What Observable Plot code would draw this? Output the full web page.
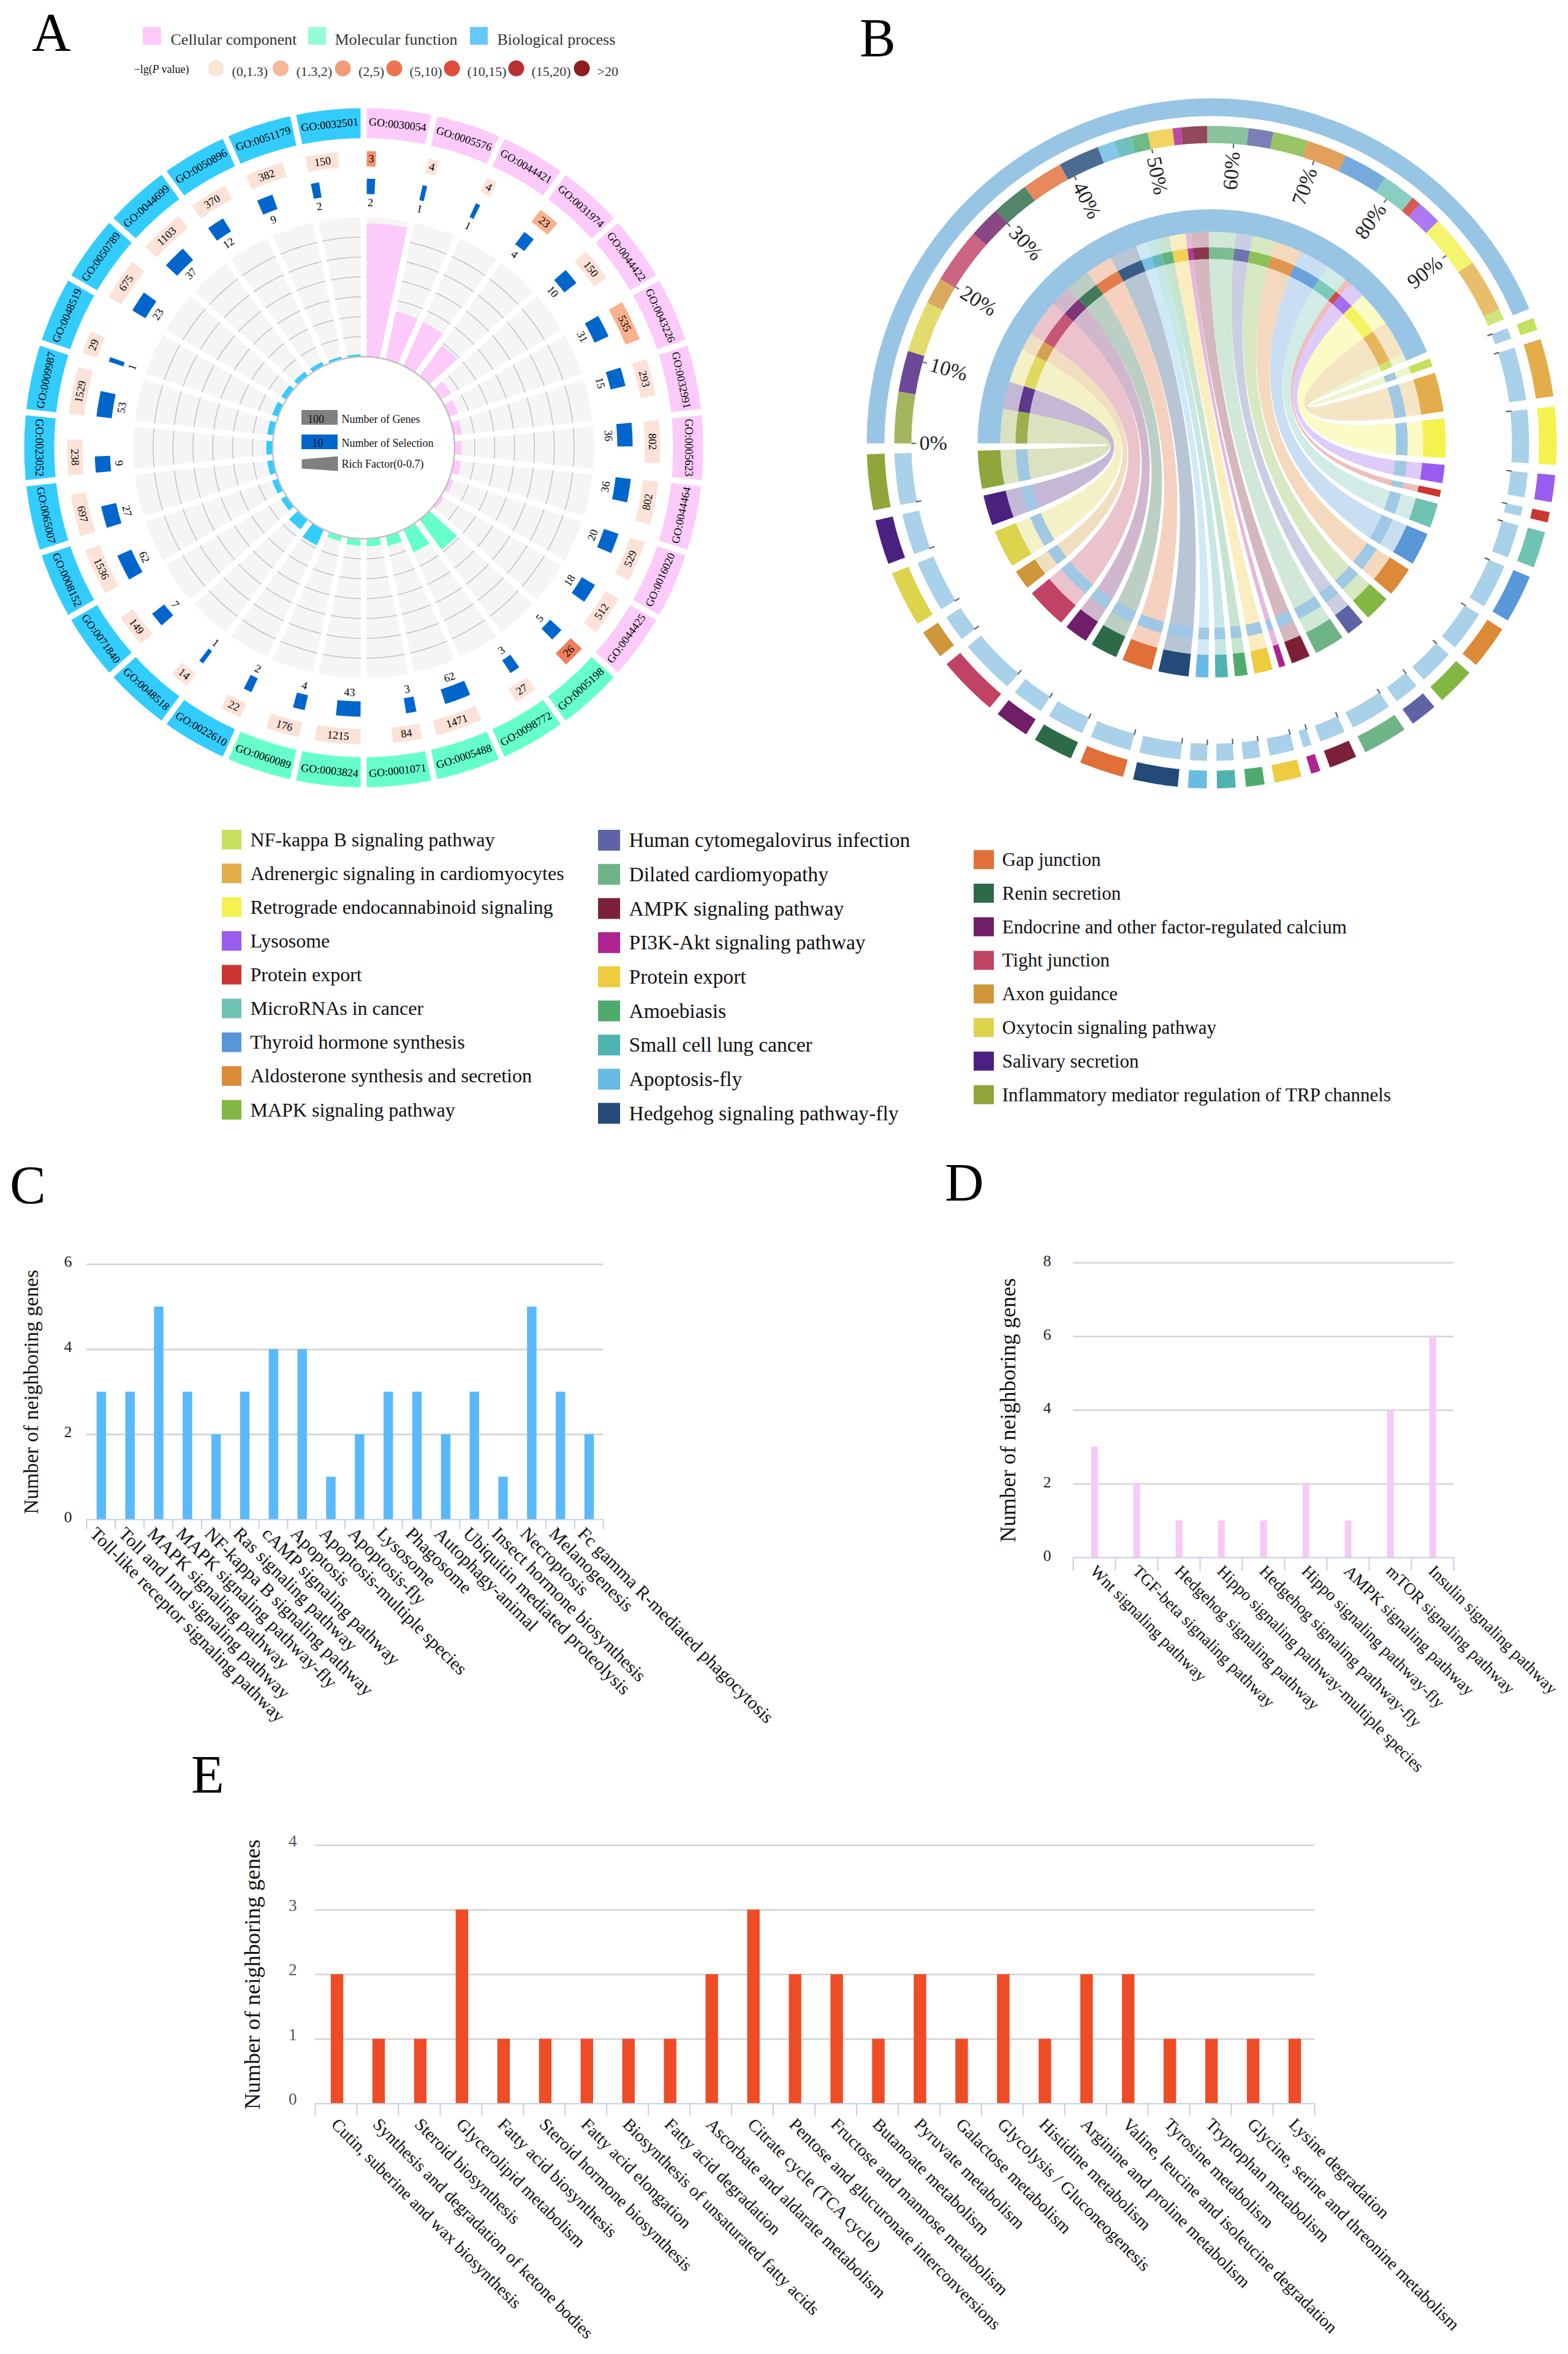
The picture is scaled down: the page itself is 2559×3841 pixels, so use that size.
<!DOCTYPE html>
<html>
<head>
<meta charset="utf-8">
<script src="https://cdn.jsdelivr.net/npm/d3@7"></script>
<script src="https://cdn.jsdelivr.net/npm/@observablehq/plot@0.6"></script>
<style>
html,body{margin:0;padding:0;background:#fff}
#page{position:relative;width:2559px;height:3841px;overflow:hidden;background:#fff;font-family:"Liberation Serif",serif}
#page svg{position:absolute;overflow:visible}
.letter{position:absolute;font-size:88px;line-height:1;color:#000}
</style>
</head>
<body>
<div id="page"></div>
<script>
(function(){
// ---------- Panel A data ----------
const goIds = ["GO:0030054","GO:0005576","GO:0044421","GO:0031974","GO:0044422","GO:0043226","GO:0032991","GO:0005623","GO:0044464","GO:0016020","GO:0044425",
  "GO:0005198","GO:0098772","GO:0005488","GO:0001071","GO:0003824","GO:0060089",
  "GO:0022610","GO:0048518","GO:0071840","GO:0008152","GO:0065007","GO:0023052","GO:0009987","GO:0048519","GO:0050789","GO:0044699","GO:0050896","GO:0051179","GO:0032501"];
const goClass = [0,0,0,0,0,0,0,0,0,0,0,1,1,1,1,1,1,2,2,2,2,2,2,2,2,2,2,2,2,2];
const goGenes = [3,4,4,23,150,535,293,802,802,529,512,26,27,1471,84,1215,176,22,14,149,1536,697,238,1529,29,675,1103,370,382,150];
const goLevel = [2,0,0,1,0,1,0,0,0,0,0,3,0,0,0,0,0,0,0,0,0,0,0,0,0,0,0,0,0,0];
const goSelected = [2,1,1,4,10,31,15,36,36,20,18,5,3,62,3,43,4,2,1,7,62,27,9,53,1,23,37,12,9,2];
const goRich = [.67,.245,.24,.19,.058,.046,.04,.034,.035,.022,.016,.186,.125,.05,.037,.033,.025,.085,.06,.03,.03,.03,.03,.03,.03,.028,.025,.02,.012,.01];
const classNames = ["Cellular component","Molecular function","Biological process"];
const classColors = ["#fccbfb","#66ffcc","#33ccff"];
const classLegendColors = ["#fccbfb","#95fdd2","#66c8fb"];
const pLabels = ["(0,1.3)","(1.3,2)","(2,5)","(5,10)","(10,15)","(15,20)",">20"];
const pColors = ["#fbe3d5","#f6b89b","#f19c77","#ec7550","#e14b38","#b93131","#8e1d20"];
const barLevelColors = ["#fde2d8","#f9b08e","#f58f6e","#ef7d5c","#e14b38","#b93131","#8e1d20"];
const richTicks = [.1,.2,.3,.4,.5,.6];

// ---------- Panel B data ----------
const pathways = ["NF-kappa B signaling pathway","Adrenergic signaling in cardiomyocytes","Retrograde endocannabinoid signaling","Lysosome","Protein export","MicroRNAs in cancer","Thyroid hormone synthesis","Aldosterone synthesis and secretion","MAPK signaling pathway",
  "Human cytomegalovirus infection","Dilated cardiomyopathy","AMPK signaling pathway","PI3K-Akt signaling pathway","Protein export","Amoebiasis","Small cell lung cancer","Apoptosis-fly","Hedgehog signaling pathway-fly",
  "Gap junction","Renin secretion","Endocrine and other factor-regulated calcium","Tight junction","Axon guidance","Oxytocin signaling pathway","Salivary secretion","Inflammatory mediator regulation of TRP channels"];
const pathwayColors = ["#c5e05e","#e3ae4a","#f3f24e","#9a5cef","#cc3630","#6fc3b2","#5897d8","#dd8a38","#82b744",
  "#5e63a5","#6fb486","#7c2039","#ad2391","#eecb3f","#4fab6d","#50b3b0","#69bbe3","#234a78",
  "#e06f38","#2c6a48","#701e68","#c04365","#cf973a","#ddd34d","#4a2180","#8fa63a"];
const pathwayShare = [1.3,6.2,6.2,2.9,1.1,3.9,5.2,4.7,4.1,2.9,4.8,3,1,2.9,2,2,2,4.8,4.8,4.3,3.7,6.5,3.1,6,4.8,6];
const percentTicks = [0,10,20,30,40,50,60,70,80,90];

// ---------- Panels C, D, E data ----------
const cNames = ["Toll-like receptor signaling pathway","Toll and Imd signaling pathway","MAPK signaling pathway","MAPK signaling pathway-fly","NF-kappa B signaling pathway","Ras signaling pathway","cAMP signaling pathway","Apoptosis","Apoptosis-multiple species","Apoptosis-fly","Lysosome","Phagosome","Autophagy-animal","Ubiquitin mediated proteolysis","Insect hormone biosynthesis","Necroptosis","Melanogenesis","Fc gamma R-mediated phagocytosis"];
const cValues = [3,3,5,3,2,3,4,4,1,2,3,3,2,3,1,5,3,2];
const dNames = ["Wnt signaling pathway","TGF-beta signaling pathway","Hedgehog signaling pathway","Hippo signaling pathway-multiple species","Hedgehog signaling pathway-fly","Hippo signaling pathway-fly","AMPK signaling pathway","mTOR signaling pathway","Insulin signaling pathway"];
const dValues = [3,2,1,1,1,2,1,4,6];
const eNames = ["Cutin, suberine and wax biosynthesis","Synthesis and degradation of ketone bodies","Steroid biosynthesis","Glycerolipid metabolism","Fatty acid biosynthesis","Steroid hormone biosynthesis","Fatty acid elongation","Biosynthesis of unsaturated fatty acids","Fatty acid degradation","Ascorbate and aldarate metabolism","Citrate cycle (TCA cycle)","Pentose and glucuronate interconversions","Fructose and mannose metabolism","Butanoate metabolism","Pyruvate metabolism","Galactose metabolism","Glycolysis / Gluconeogenesis","Histidine metabolism","Arginine and proline metabolism","Valine, leucine and isoleucine degradation","Tyrosine metabolism","Tryptophan metabolism","Glycine, serine and threonine metabolism","Lysine degradation"];
const eValues = [2,1,1,3,1,1,1,1,1,2,3,2,2,1,2,1,2,1,2,2,1,1,1,1];

// ---------- helpers ----------
const FONT = "Liberation Serif";
const page = document.getElementById("page");
const rad = d => d * Math.PI / 180;
const deg = r => r * 180 / Math.PI;
const polar = (c, r, a) => [c[0] + r * Math.sin(rad(a)), c[1] - r * Math.cos(rad(a))];
function arcPts(c, r, a0, a1) {
  const n = Math.max(2, Math.ceil(Math.abs(a1 - a0)));
  return d3.range(n + 1).map(i => polar(c, r, a0 + (a1 - a0) * i / n));
}
function sector(c, r0, r1, a0, a1, pad = 0) {
  const pr = r => pad ? deg(Math.asin(Math.min(1, pad / r))) : 0;
  return [...arcPts(c, r1, a0 + pr(r1), a1 - pr(r1)), ...arcPts(c, r0, a1 - pr(r0), a0 + pr(r0))];
}
let uid = 0;
const toRows = (pts, fill) => { const id = uid++; return pts.map(p => ({x: p[0], y: p[1], id, fill})); };
const polys = (list, opts = {}) => Plot.line(list.flat(), {x: "x", y: "y", z: "id", fill: d => d.fill, stroke: "none", curve: "linear-closed", ...opts});
const rotA = a => { a = ((a % 360) + 360) % 360; return a <= 90 ? a : a <= 270 ? a - 180 : a - 360; };

// ---------- Panel A ----------
const cA = [593, 730];
const S = 12, PAD = 5;
const richR = d3.scaleLinear().domain([0, .7]).range([149, 376]);
const geneArc = d3.scaleLog().domain([1, 10000]).range([.5, 11.4]);
const selArc = d3.scaleLog().domain([1, 100]).range([1, 6.2]);
const startOf = (i, r) => i * S + deg(Math.asin(PAD / r));
const idx = d3.range(goIds.length);
const marksA = [
  polys(idx.map(i => toRows(sector(cA, 149, 376, i * S, (i + 1) * S, PAD), "#f5f5f5"))),
  Plot.line(idx.flatMap(i => richTicks.flatMap((t) => {
    const r = richR(t), id = uid++;
    return arcPts(cA, r, startOf(i, r), (i + 1) * S - deg(Math.asin(PAD / r))).map(p => ({x: p[0], y: p[1], id}));
  })), {x: "x", y: "y", z: "id", stroke: "#c4c4c4", strokeWidth: 1.6}),
  polys(idx.map(i => toRows(sector(cA, 149, richR(goRich[i]), i * S, (i + 1) * S, PAD), classColors[goClass[i]]))),
  Plot.line(arcPts(cA, 148.5, 0, 360), {x: d => d[0], y: d => d[1], fill: "#fff", stroke: "#c0c0c0", strokeWidth: 2.5, curve: "linear-closed"}),
  polys(idx.map(i => toRows(sector(cA, 505, 554, i * S, (i + 1) * S, PAD), classColors[goClass[i]]))),
  polys(idx.map(i => { const a = startOf(i, 471); return toRows(sector(cA, 459, 484, a, a + geneArc(goGenes[i])), barLevelColors[goLevel[i]]); })),
  polys(idx.map(i => { const a = startOf(i, 426); return toRows(sector(cA, 414, 439, a, a + selArc(goSelected[i])), "#0066cc"); })),
  Plot.text(idx, {x: i => polar(cA, 530, (i + .5) * S)[0], y: i => polar(cA, 530, (i + .5) * S)[1], text: i => goIds[i], rotate: i => rotA((i + .5) * S), fontSize: 18, fill: "#000"}),
  Plot.text(idx, {x: i => polar(cA, 471.5, startOf(i, 471) + geneArc(goGenes[i]) / 2)[0], y: i => polar(cA, 471.5, startOf(i, 471) + geneArc(goGenes[i]) / 2)[1], text: i => String(goGenes[i]), rotate: i => rotA(startOf(i, 471) + geneArc(goGenes[i]) / 2), fontSize: 18, fill: "#000"}),
  Plot.text(idx, {x: i => polar(cA, 400, startOf(i, 426) + selArc(goSelected[i]) / 2)[0], y: i => polar(cA, 400, startOf(i, 426) + selArc(goSelected[i]) / 2)[1], text: i => String(goSelected[i]), rotate: i => rotA(startOf(i, 426) + selArc(goSelected[i]) / 2), fontSize: 18, fill: "#000"}),
  // centre key
  Plot.rect([0], {x1: 492, x2: 551, y1: 669, y2: 693, fill: "#808080"}),
  Plot.rect([0], {x1: 492, x2: 551, y1: 709, y2: 733, fill: "#0066cc"}),
  Plot.line([[492,749],[551,744],[551,768],[492,764]], {x: d => d[0], y: d => d[1], fill: "#808080", stroke: "none", curve: "linear-closed"}),
  Plot.text(["100"], {x: 515, y: 684, fontSize: 18, fill: "#111"}),
  Plot.text(["10"], {x: 518, y: 723, fontSize: 18, fill: "#111"}),
  Plot.text(["Number of Genes","Number of Selection","Rich Factor(0-0.7)"], {x: 557, y: (d, i) => [684, 723, 757][i], text: d => d, textAnchor: "start", fontSize: 18, fill: "#111"}),
  // top key
  Plot.rect(classNames, {x1: (d, i) => [233, 503, 767][i], x2: (d, i) => [263, 532, 796][i], y1: 44, y2: 73, fill: (d, i) => classLegendColors[i]}),
  Plot.text(classNames, {x: (d, i) => [278, 546, 811][i], y: 64, text: d => d, textAnchor: "start", fontSize: [26, 26, 25][0], fill: "#333"}),
  Plot.text(["\u2212lg("], {x: 218, y: 113, text: d => d, textAnchor: "start", fontSize: 18, fill: "#111"}),
  Plot.text(["P"], {x: 248, y: 113, text: d => d, textAnchor: "start", fontSize: 18, fontStyle: "italic", fill: "#111"}),
  Plot.text(["value)"], {x: 263, y: 113, text: d => d, textAnchor: "start", fontSize: 18, fill: "#111"}),
  Plot.dot(pLabels, {x: (d, i) => [352,457.5,559,643,737,842,949][i], y: 111, r: 13, fill: (d, i) => pColors[i], stroke: "none"}),
  Plot.text(pLabels, {x: (d, i) => [378,483,584.5,668,762,867,974][i], y: 116, text: d => d, textAnchor: "start", fontSize: 22, fill: "#333"})
];

// ---------- Panel B ----------
const cB = [1977, 723];
const START = -90, BIG = 157, GAP = 1.7;
const unit = BIG / d3.sum(pathwayShare);
const shareDeg = pathwayShare.map(v => v * unit);
const segOrder = pathways.map((_, i) => i);
// top positions run from Inflammatory (0%) back to NF-kappa (100%)
const topPos = new Array(pathways.length);
let acc = START;
[...segOrder].reverse().forEach(i => { topPos[i] = [acc, acc + shareDeg[i]]; acc += shareDeg[i]; });
const lowPos = new Array(pathways.length);
let acb = START + BIG + GAP;
segOrder.forEach(i => { lowPos[i] = [acb, acb + shareDeg[i]]; acb += shareDeg[i] + GAP; });
const LIGHT = "#a9d1e9", BIGBLUE = "#99c5e5";
function ribbon(a, b) {
  const R = 345, r = 301, qs = (p0, p1) => {
    const ctrl = [cB[0] + .117 * ((p0[0] + p1[0]) / 2 - cB[0]), cB[1] + .117 * ((p0[1] + p1[1]) / 2 - cB[1])];
    return d3.range(41).map(k => {
      const t = k / 40, u = 1 - t;
      return [u * u * p0[0] + 2 * u * t * ctrl[0] + t * t * p1[0], u * u * p0[1] + 2 * u * t * ctrl[1] + t * t * p1[1]];
    });
  };
  return [...arcPts(cB, R, a[0], a[1]), ...qs(polar(cB, r, a[1]), polar(cB, r, b[0])), ...arcPts(cB, R, b[0], b[1]), ...qs(polar(cB, r, b[1]), polar(cB, r, a[0]))];
}
const pctAngle = p => START + p / 100 * BIG;
const marksB = [
  polys([toRows(sector(cB, 534, 563, START, START + BIG), BIGBLUE), toRows(sector(cB, 345, 382, START, START + BIG), BIGBLUE)]),
  polys(segOrder.map(i => toRows(sector(cB, 490, 518, topPos[i][0], topPos[i][1]), pathwayColors[i])), {fillOpacity: .82}),
  polys(segOrder.map(i => toRows(sector(cB, 534, 563, lowPos[i][0], lowPos[i][1]), pathwayColors[i]))),
  polys(segOrder.map(i => toRows(sector(cB, 490, 518, lowPos[i][0], lowPos[i][1]), LIGHT))),
  polys(segOrder.map(i => toRows(sector(cB, 345, 382, lowPos[i][0], lowPos[i][1]), pathwayColors[i]))),
  polys(segOrder.map(i => toRows(ribbon(topPos[i], lowPos[i]), pathwayColors[i])), {fillOpacity: .32}),
  polys(segOrder.map(i => toRows(sector(cB, 301, 320, topPos[i][0], topPos[i][1]), pathwayColors[i])), {fillOpacity: .85}),
  polys(segOrder.map(i => toRows(sector(cB, 301, 320, lowPos[i][0], lowPos[i][1]), "#a0c8e4"))),
  Plot.link(segOrder, {x1: i => polar(cB, 483, lowPos[i][0])[0], y1: i => polar(cB, 483, lowPos[i][0])[1], x2: i => polar(cB, 492, lowPos[i][0])[0], y2: i => polar(cB, 492, lowPos[i][0])[1], stroke: "#555", strokeWidth: 2}),
  Plot.link(percentTicks, {x1: p => polar(cB, 483, pctAngle(p))[0], y1: p => polar(cB, 483, pctAngle(p))[1], x2: p => polar(cB, 490, pctAngle(p))[0], y2: p => polar(cB, 490, pctAngle(p))[1], stroke: "#555", strokeWidth: 2}),
  Plot.text(percentTicks.filter(p => p <= 50), {x: p => polar(cB, 477, pctAngle(p))[0], y: p => polar(cB, 477, pctAngle(p))[1], text: p => p + "%", rotate: p => pctAngle(p) + 90, textAnchor: "start", fontSize: 34, fill: "#222"}),
  Plot.text(percentTicks.filter(p => p > 50), {x: p => polar(cB, 477, pctAngle(p))[0], y: p => polar(cB, 477, pctAngle(p))[1], text: p => p + "%", rotate: p => pctAngle(p) - 90, textAnchor: "end", fontSize: 34, fill: "#222"})
];

// ---------- Panel B key ----------
const keyCols = [
  {from: 0, to: 9, sx0: 362, sx1: 394, tx: 408, y0: 1370, step: 55.1, h: 32, font: 32},
  {from: 9, to: 18, sx0: 976, sx1: 1012, tx: 1026, y0: 1371, step: 55.7, h: 34, font: 33.6},
  {from: 18, to: 26, sx0: 1589, sx1: 1622, tx: 1635, y0: 1402.6, step: 54.8, h: 31, font: 31}
];
const keyRows = keyCols.flatMap(c => d3.range(c.from, c.to).map(i => ({i, y: c.y0 + (i - c.from) * c.step, ...c})));
const marksKey = [
  Plot.rect(keyRows, {x1: "sx0", x2: "sx1", y1: d => d.y - d.h / 2, y2: d => d.y + d.h / 2, fill: d => pathwayColors[d.i]}),
  ...keyCols.map(c => Plot.text(keyRows.filter(d => d.from === c.from), {x: "tx", y: "y", text: d => pathways[d.i], textAnchor: "start", fontSize: c.font, fill: "#111"}))
];

const topChart = Plot.plot({
  width: 2559, height: 1900, margin: 0,
  x: {domain: [0, 2559], range: [0, 2559], axis: null},
  y: {domain: [0, 1900], range: [0, 1900], axis: null},
  color: {type: "identity"},
  style: {fontFamily: FONT, background: "transparent"},
  marks: [...marksA, ...marksB, ...marksKey]
});
topChart.style.left = "0px"; topChart.style.top = "0px";
page.appendChild(topChart);

// ---------- bar panels ----------
function barPanel({names, values, color, left, topY, width, height, plot, yMax, yTicks, barFrac, barShift, tickLen, titleSize, titleDx, tickPad, tickFont, tickDy, tickFill, labelPad, labelDx, labelFont}) {
  const n = names.length;
  const chart = Plot.plot({
    width, height,
    marginLeft: plot[0] - left, marginRight: left + width - plot[1],
    marginTop: plot[2] - topY, marginBottom: topY + height - plot[3],
    x: {domain: [0, n], axis: null},
    y: {domain: [0, yMax], axis: null},
    style: {fontFamily: FONT, background: "transparent", color: "#111"},
    marks: [
      Plot.ruleY(yTicks.filter(v => v > 0), {stroke: "#d4d4d4", strokeWidth: 2.6, strokeOpacity: 1}),
      Plot.rect(values, {x1: (d, i) => i + .5 + barShift - barFrac / 2, x2: (d, i) => i + .5 + barShift + barFrac / 2, y1: 0, y2: d => d, fill: color}),
      Plot.ruleY([0], {stroke: "#c0d0e6", strokeWidth: 2, strokeOpacity: 1}),
      Plot.axisX(d3.range(n + 1), {tickSize: tickLen, tickFormat: () => "", stroke: "#c0d0e6", strokeWidth: 2, strokeOpacity: 1, label: null}),
      Plot.axisX(d3.range(n).map(i => i + .5), {tickSize: 0, tickPadding: labelPad, dx: labelDx, tickRotate: 45, tickFormat: v => names[v - .5], fontSize: labelFont, lineAnchor: "middle", textAnchor: "start", label: null, fill: "#111", textOverflow: null, lineWidth: Infinity}),
      Plot.axisY(yTicks, {tickSize: 0, tickPadding: tickPad, fontSize: tickFont, dy: tickDy, tickFormat: d3.format("d"), label: null, fill: tickFill}),
      Plot.text(["Number of neighboring genes"], {frameAnchor: "left", textAnchor: "middle", rotate: -90, dx: titleDx, fontSize: titleSize, fill: "#111"})
    ]
  });
  chart.style.left = left + "px"; chart.style.top = topY + "px";
  page.appendChild(chart);
}
barPanel({names: cNames, values: cValues, color: "#5ab9fb", left: 0, topY: 2000, width: 1300, height: 850, plot: [141, 984, 2062.5, 2479], yMax: 6, yTicks: [0, 2, 4, 6], barFrac: .33, barShift: .02, tickLen: 16, titleSize: 33.3, titleDx: -90, tickPad: 24, tickFont: 26, tickDy: -4, tickFill: "#222", labelPad: 18, labelDx: -13, labelFont: 30});
barPanel({names: dNames, values: dValues, color: "#f7c9f7", left: 1500, topY: 2000, width: 1059, height: 950, plot: [1751, 2372, 2060, 2541], yMax: 8, yTicks: [0, 2, 4, 6, 8], barFrac: .16, barShift: .01, tickLen: 22, titleSize: 36, titleDx: -106, tickPad: 36, tickFont: 26, tickDy: -3, tickFill: "#222", labelPad: 17.5, labelDx: -2, labelFont: 27.5});
barPanel({names: eNames, values: eValues, color: "#ee4c26", left: 300, topY: 2950, width: 2259, height: 891, plot: [514, 2145, 3010.5, 3432], yMax: 4, yTicks: [0, 1, 2, 3, 4], barFrac: .3, barShift: .03, tickLen: 20, titleSize: 36.8, titleDx: -102, tickPad: 30, tickFont: 27, tickDy: -7, tickFill: "#555", labelPad: 29, labelDx: -3, labelFont: 28.5});

// ---------- panel letters ----------
[["A", 52, 9], ["B", 1403, 18], ["C", 16, 1890], ["D", 1542, 1886], ["E", 312, 2852]].forEach(([t, x, y]) => {
  const d = document.createElement("div");
  d.className = "letter"; d.textContent = t; d.style.left = x + "px"; d.style.top = y + "px";
  page.appendChild(d);
});
})();
</script>
</body>
</html>
